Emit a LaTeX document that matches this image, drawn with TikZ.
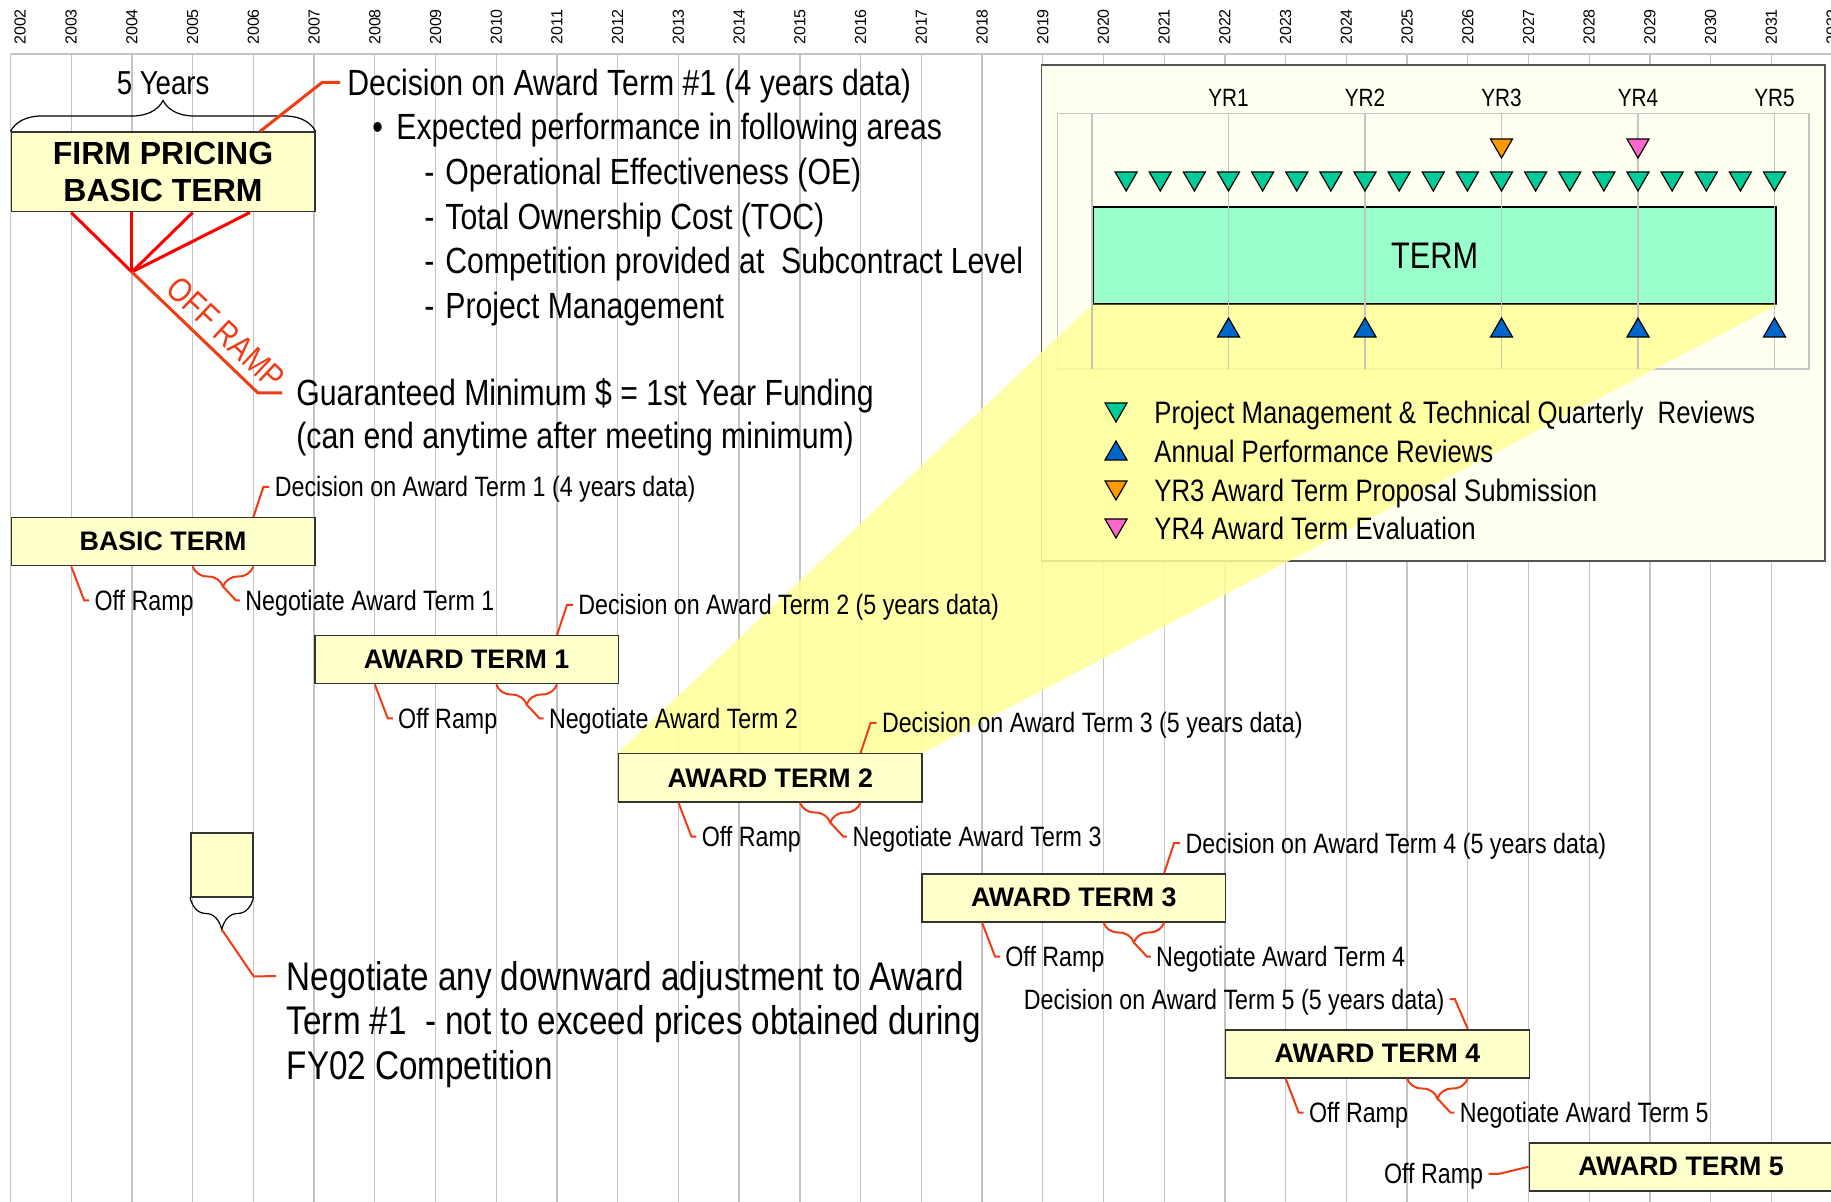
\documentclass[tikz,border=0pt]{standalone}
\usepackage{fontspec}
\setmainfont{Liberation Sans}
\newfontfamily\narrowsans[FakeStretch=0.83]{Liberation Sans}
\usetikzlibrary{calc,decorations.pathreplacing}

\definecolor{gridgray}{HTML}{C4C4C4}
\definecolor{boxfill}{HTML}{FFFFCC}
\definecolor{boxline}{HTML}{333333}
\definecolor{panelbg}{HTML}{FFFFF2}
\definecolor{panelline}{HTML}{555555}
\definecolor{zoomfill}{HTML}{FFFF99}
\definecolor{termfill}{HTML}{99FFCC}
\definecolor{qgreen}{HTML}{00CC99}
\definecolor{ablue}{HTML}{0066CC}
\definecolor{yorange}{HTML}{FF9900}
\definecolor{ypink}{HTML}{FF66CC}
\definecolor{leadred}{HTML}{F03C14}

\begin{document}
\begin{tikzpicture}[
    x=0.5pt, y=-0.5pt,
    gridline/.style={draw=gridgray, line width=0.65pt},
    yearlbl/.style={rotate=90, inner sep=0pt, font=\fontsize{8}{9}\selectfont},
    termbox/.style={draw=boxline, line width=0.75pt, fill=boxfill, anchor=north west,
        inner sep=0pt, minimum width=151.8pt, minimum height=24pt,
        font=\fontsize{13.4}{16}\selectfont\bfseries},
    note/.style={anchor=west, inner sep=2.5pt, text height=10pt, text depth=0pt,
        font=\narrowsans\fontsize{14}{16}\selectfont},
    bigtext/.style={anchor=west, inner sep=0pt, text height=13pt, text depth=0pt,
        font=\narrowsans\fontsize{18.2}{21}\selectfont},
    negtext/.style={bigtext, text height=14.3pt, font=\narrowsans\fontsize{20}{24}\selectfont},
    legendtxt/.style={anchor=west, inner sep=0pt, text height=11.1pt, text depth=0pt,
        font=\narrowsans\fontsize{15.5}{18}\selectfont},
    leader/.style={draw=leadred, line width=1pt},
    heavyleader/.style={draw=leadred, line width=1.5pt},
    redbrace/.style={leader, decorate, decoration={brace, amplitude=10pt}},
    tridown/.pic={\filldraw[fill=#1, draw=black, line width=0.6pt] (-11,-9) -- (11,-9) -- (0,10) -- cycle;},
    triup/.pic={\filldraw[fill=#1, draw=black, line width=0.6pt] (-11,9) -- (11,9) -- (0,-10) -- cycle;},
  ]
  \useasboundingbox (0,0) rectangle (1831,1202);
  \clip (0,0) rectangle (1831,1202);
  \fill[white] (0,0) rectangle (1831,1202);

  % year grid
  \foreach \i in {0,...,30}
    \draw[gridline] ({10.5+60.72*\i},54) -- ({10.5+60.72*\i},1202);
  \draw[gridline] (10.5,54) -- (1831,54);
  \node[yearlbl] (year0) at (20,27) {2002};
  \foreach \i in {1,...,30}
    \node[yearlbl] (year\i) at ({10.5+60.72*\i},27) {\the\numexpr2002+\i\relax};

  % inset panel
  \node[draw=panelline, line width=0.75pt, fill=panelbg, anchor=north west, inner sep=0pt,
        minimum width=391.75pt, minimum height=248pt] (inset) at (1040.5,64.5) {};
  \draw[draw=gridgray, line width=0.75pt] (1057.7,113.3) rectangle (1809,369);

  % term boxes
  \node[termbox, minimum height=39.75pt, align=center,
        font=\fontsize{16}{18.5}\selectfont\bfseries] (firm) at (10.5,131.5) {FIRM PRICING\\BASIC TERM};
  \node[termbox] (basic) at (10.5,517) {BASIC TERM};
  \node[termbox] (at1) at (314.1,635) {AWARD TERM 1};
  \node[termbox] (at2) at (617.7,753) {AWARD TERM 2};
  \node[termbox] (at3) at (921.3,873) {AWARD TERM 3};
  \node[termbox] (at4) at (1224.9,1029) {AWARD TERM 4};
  \node[termbox] (at5) at (1528.5,1142) {AWARD TERM 5};
  \node[draw=boxline, line width=0.75pt, fill=boxfill, anchor=north west, inner sep=0pt,
        minimum width=31pt, minimum height=32pt] (adj) at (190,832) {};
  \node[draw=black, line width=1pt, fill=termfill, anchor=north west, inner sep=0pt,
        minimum width=341.7pt, minimum height=48.2pt,
        font=\narrowsans\fontsize{18.5}{22}\selectfont] (term) at (1092,206.3) {TERM};

  % zoom wedge
  \fill[zoomfill, fill opacity=0.85] (at2.north west) -- (term.south west)
    -- (term.south east) -- (at2.north east) -- cycle;

  % inset contents
  \foreach \k in {0,...,5}
    \draw[gridline] ({1092+136.5*\k},113.3) -- ({1092+136.5*\k},369);
  \foreach \k in {1,...,5}
    \node[inner sep=0pt, text height=9pt, text depth=0pt,
          font=\narrowsans\fontsize{12.5}{15}\selectfont] (yr\k) at ({1092+136.5*\k},98) {YR\k};
  \foreach \k in {1,...,20}
    \pic at ({1092+34.125*\k},181) {tridown=qgreen};
  \foreach \k in {1,...,5}
    \pic at ({1092+136.5*\k},328) {triup=ablue};
  \pic at (1501.5,148) {tridown=yorange};
  \pic at (1638,148) {tridown=ypink};

  % legend
  \pic at (1116,412) {tridown=qgreen};
  \node[legendtxt] (leg1) at (1154,412) {Project Management \& Technical Quarterly\ \ Reviews};
  \pic at (1116,451) {triup=ablue};
  \node[legendtxt] (leg2) at (1154,451) {Annual Performance Reviews};
  \pic at (1116,490) {tridown=yorange};
  \node[legendtxt] (leg3) at (1154,490) {YR3 Award Term Proposal Submission};
  \pic at (1116,528) {tridown=ypink};
  \node[legendtxt] (leg4) at (1154,528) {YR4 Award Term Evaluation};

  % firm pricing notes
  \draw[line width=0.6pt, decorate, decoration={brace, amplitude=15.5pt}]
    (firm.north west) -- (firm.north east);
  \node[inner sep=0pt, text height=11.8pt, text depth=0pt,
        font=\narrowsans\fontsize{16.6}{19}\selectfont] (fiveyrs) at ($(firm.north)+(0,-49)$) {5 Years};

  \node[bigtext, inner xsep=3.5pt] (dec1top) at (340,82.5) {Decision on Award Term \#1 (4 years data)};
  \draw[heavyleader] ($(firm.north west)+(249.5,0)$) -- (322,82.5) -- (dec1top.west);
  \node[bigtext] (areas) at (372,127) {\makebox[12pt][l]{\textbullet}Expected performance in following areas};
  \node[bigtext] (oe) at (424,171.7) {\makebox[10.5pt][l]{-}Operational Effectiveness (OE)};
  \node[bigtext] (toc) at (424,216.3) {\makebox[10.5pt][l]{-}Total Ownership Cost (TOC)};
  \node[bigtext] (comp) at (424,261) {\makebox[10.5pt][l]{-}Competition provided at\ \ Subcontract Level};
  \node[bigtext] (pm) at (424,305.6) {\makebox[10.5pt][l]{-}Project Management};

  \coordinate (hub) at (131.9,272);
  \foreach \dx in {121.4,182.2,239.5}
    \draw[red, line width=1.5pt] ($(firm.south west)+(\dx,0)$) -- (hub);
  \draw[red, line width=1.5pt] ($(firm.south west)+(60.7,0)$) -- (hub);
  \node[bigtext, inner xsep=7pt] (guar1) at (282,393) {Guaranteed Minimum \$ = 1st Year Funding};
  \node[bigtext] (guar2) at (296,436) {(can end anytime after meeting minimum)};
  \draw[heavyleader] (hub) -- (258,393) -- (guar1.west);
  \node[rotate=-43.3, inner sep=0pt, text=leadred,
        font=\narrowsans\fontsize{17}{20}\selectfont] (offramp) at (226,333) {OFF RAMP};

  % term annotations
  \foreach \t/\n in {basic/1, at1/2, at2/3, at3/4, at4/5} {
    \node[note] (\t-off) at ($(\t.south west)+(78.7,34)$) {Off Ramp};
    \draw[leader] ($(\t.south west)+(60.72,0)$) -- ++(13,34) -- (\t-off.west);
    \draw[redbrace] ($(\t.south west)+(242.88,0)$) -- ($(\t.south west)+(182.16,0)$);
    \coordinate (\t-tip) at ($(\t.south west)+(212.52,20)$);
    \node[note] (\t-neg) at ($(\t-tip)+(17,14)$) {Negotiate Award Term \n};
    \draw[leader] (\t-tip) -- ++(13,14) -- (\t-neg.west);
  }
  \foreach \t/\n/\d in {basic/1/4, at1/2/5, at2/3/5, at3/4/5} {
    \node[note] (\t-dec) at ($(\t.north west)+(258.9,-30)$) {Decision on Award Term \n\ (\d\ years data)};
    \draw[leader] ($(\t.north west)+(242.88,0)$) -- ++(10,-30) -- (\t-dec.west);
  }
  \node[note, anchor=east] (at4-dec) at ($(at4.north west)+(225,-30)$) {Decision on Award Term 5 (5 years data)};
  \draw[leader] ($(at4.north west)+(242.88,0)$) -- ++(-13,-30) -- (at4-dec.east);
  \node[note, anchor=east] (at5-off) at ($(at5.west)+(-40,7)$) {Off Ramp};
  \draw[leader] (at5.west) -- ++(-29,7) -- (at5-off.east);

  % downward adjustment
  \draw[line width=0.6pt, decorate, decoration={brace, amplitude=16pt}]
    (adj.south east) -- (adj.south west);
  \coordinate (adjtip) at ($(adj.south)+(0,32)$);
  \node[negtext, inner xsep=5.25pt] (neg1) at (276,976) {Negotiate any downward adjustment to Award};
  \node[negtext] (neg2) at (286.5,1020.5) {Term \#1\ \ - not to exceed prices obtained during};
  \node[negtext] (neg3) at (286.5,1065) {FY02 Competition};
  \draw[leader] (adjtip) -- ++(32,47) -- (neg1.west);
\end{tikzpicture}
\end{document}
